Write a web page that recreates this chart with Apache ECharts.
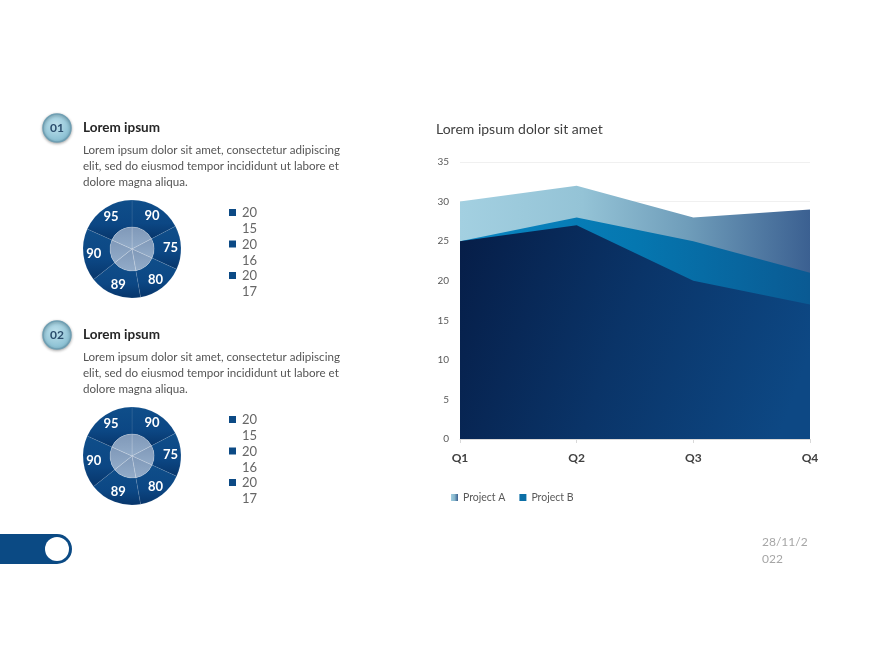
<!DOCTYPE html>
<html>
<head>
<meta charset="utf-8">
<script src="https://cdn.jsdelivr.net/npm/echarts@6/dist/echarts.min.js"></script>
<style>
html,body{margin:0;padding:0;background:#fff;}
#chart{width:870px;height:653px;}
</style>
</head>
<body>
<div id="chart"></div>
<script>
// ---- data ----
const quarters = ['Q1', 'Q2', 'Q3', 'Q4'];
const projectA = [30, 32, 28, 29];
const projectB = [25, 28, 25, 21];
const baseArea = [25, 27, 20, 17];
const yTicks = { min: 0, max: 35, interval: 5 };
const pieValues = [90, 75, 80, 89, 90, 95];
const pieYears = ['2015', '2016', '2017'];
const chartTitle = 'Lorem ipsum dolor sit amet';
const sectionNumbers = ['01', '02'];
const sectionHeading = 'Lorem ipsum';
const sectionBody = [
  'Lorem ipsum dolor sit amet, consectetur adipiscing',
  'elit, sed do eiusmod tempor incididunt ut labore et',
  'dolore magna aliqua.'
];
const dateText = '28/11/2\n022';

const FONT = 'Lato, "Open Sans", sans-serif';
const chart = echarts.init(document.getElementById('chart'));

function lin(x, y, x2, y2, stops) {
  return { type: 'linear', x: x, y: y, x2: x2, y2: y2,
    colorStops: stops.map(s => ({ offset: s[0], color: s[1] })) };
}

const sectionTops = [128, 335];
const pieCenters = [[132, 249], [132, 456]];

const graphics = [];
sectionTops.forEach((cy, i) => {
  graphics.push({
    type: 'circle', shape: { cx: 57, cy: cy, r: 14 },
    style: {
      fill: { type: 'radial', x: 0.45, y: 0.4, r: 0.6,
        colorStops: [{ offset: 0, color: '#bfe1ec' }, { offset: 1, color: '#84bcd0' }] },
      stroke: '#6f9fb3', lineWidth: 1.5,
      shadowBlur: 3, shadowColor: 'rgba(0,0,0,0.3)', shadowOffsetY: 1
    }, z: 10
  });
  graphics.push({
    type: 'text', x: 57, y: cy, z: 11,
    style: { text: sectionNumbers[i], fill: '#2b4d6c', font: 'bold 12px ' + FONT,
      textAlign: 'center', textVerticalAlign: 'middle' }
  });
  graphics.push({
    type: 'text', x: 83, y: cy, z: 11,
    style: { text: sectionHeading, fill: '#262626', font: 'bold 13.5px ' + FONT,
      textAlign: 'left', textVerticalAlign: 'middle' }
  });
  sectionBody.forEach((line, j) => {
    graphics.push({
      type: 'text', x: 83, y: cy + 22 + j * 16, z: 11,
      style: { text: line, fill: '#555555', font: '11.6px ' + FONT,
        textAlign: 'left', textVerticalAlign: 'middle' }
    });
  });
  // pie legend
  const ly = cy + 85;
  pieYears.forEach((yr, k) => {
    graphics.push({
      type: 'rect', shape: { x: 229, y: ly + k * 31.5 - 4, width: 7, height: 7 },
      style: { fill: '#0c4a85' }, z: 11
    });
    graphics.push({
      type: 'text', x: 242, y: ly + k * 31.5 - 8, z: 11,
      style: { text: yr.slice(0, 2) + '\n' + yr.slice(2), fill: '#666666',
        font: '13px ' + FONT, lineHeight: 16, textAlign: 'left', textVerticalAlign: 'top' }
    });
  });
});

// bottom-left pill
graphics.push({ type: 'rect', shape: { x: 0, y: 534, width: 57, height: 30 }, style: { fill: '#0b4a84' }, z: 5 });
graphics.push({ type: 'circle', shape: { cx: 57, cy: 549, r: 15 }, style: { fill: '#0b4a84' }, z: 5 });
graphics.push({ type: 'circle', shape: { cx: 57, cy: 549, r: 12 }, style: { fill: '#ffffff' }, z: 6 });
// chart title
graphics.push({ type: 'text', x: 436, y: 129, z: 11,
  style: { text: chartTitle, fill: '#404040', font: '14px ' + FONT, textAlign: 'left', textVerticalAlign: 'middle' } });
// date
graphics.push({ type: 'text', x: 762, y: 534, z: 11,
  style: { text: dateText, fill: '#a6a6a6', font: '12px ' + FONT, lineHeight: 17, textAlign: 'left', textVerticalAlign: 'top' } });

const pieSeries = [];
pieCenters.forEach((c) => {
  pieSeries.push({
    type: 'pie', center: c, radius: [22, 49], startAngle: 90, clockwise: true,
    silent: true, animation: false,
    data: pieValues.map(v => ({ value: v, name: String(v) })),
    label: { show: true, position: 'inside', formatter: '{c}', color: '#ffffff',
      fontSize: 13, fontWeight: 'bold', fontFamily: FONT },
    labelLine: { show: false },
    itemStyle: {
      color: lin(0, 0, 0, 1, [[0, '#0f4e8a'], [0.6, '#0c4784'], [1, '#07356a']]),
      borderColor: 'rgba(255,255,255,0.12)', borderWidth: 0.7
    },
    z: 2
  });
  pieSeries.push({
    type: 'pie', center: c, radius: [0, 22], startAngle: 90, clockwise: true,
    silent: true, animation: false,
    data: pieValues.map(v => ({ value: v, name: String(v) })),
    label: { show: false }, labelLine: { show: false },
    itemStyle: {
      color: lin(0, 0, 0, 1, [[0, '#7f98b8'], [1, '#93acc9']]),
      borderColor: 'rgba(255,255,255,0.25)', borderWidth: 0.7
    },
    z: 3
  });
});

const option = {
  animation: false,
  backgroundColor: '#ffffff',
  textStyle: { fontFamily: FONT },
  grid: { left: 460, top: 162, width: 350, height: 277, containLabel: false },
  legend: {
    left: 446, top: 487, itemWidth: 7, itemHeight: 7, itemGap: 14, icon: 'rect',
    data: ['Project A', 'Project B'],
    textStyle: { fontSize: 10.5, color: '#595959', fontFamily: FONT },
    selectedMode: false
  },
  xAxis: {
    type: 'category', data: quarters, boundaryGap: false,
    axisLine: { show: true, lineStyle: { color: '#d9d9d9' } },
    axisTick: { show: true, length: 4, lineStyle: { color: '#d9d9d9' } },
    axisLabel: { color: '#404040', fontSize: 12, fontWeight: 'bold', margin: 13, fontFamily: FONT }
  },
  yAxis: {
    type: 'value', min: yTicks.min, max: yTicks.max, interval: yTicks.interval,
    axisLine: { show: false }, axisTick: { show: false },
    splitLine: { lineStyle: { color: '#f0f0f0' } },
    axisLabel: { color: '#595959', fontSize: 10, margin: 11, fontFamily: FONT }
  },
  series: [
    {
      name: 'Project A', type: 'line', data: projectA, symbol: 'none', silent: true,
      lineStyle: { width: 0 },
      color: lin(0, 0, 1, 0, [[0, '#9fcde0'], [0.5, '#86b6cb'], [1, '#3a5f90']]),
      areaStyle: { opacity: 1, color: lin(0, 0, 1, 0, [[0, '#a3d0e1'], [0.35, '#94c3d6'], [0.65, '#6f9dba'], [1, '#3b6091']]) },
      z: 1
    },
    {
      name: 'Project B', type: 'line', data: projectB, symbol: 'none', silent: true,
      lineStyle: { width: 0 },
      color: '#0b6fa6',
      areaStyle: { opacity: 1, color: lin(0, 0, 1, 0, [[0, '#0a86c2'], [0.5, '#0577b0'], [1, '#0a5a93']]) },
      z: 2
    },
    {
      name: 'Base', type: 'line', data: baseArea, symbol: 'none', silent: true,
      lineStyle: { width: 0 },
      color: '#0b2c5c',
      areaStyle: { opacity: 1, color: lin(0, 0, 1, 0.6, [[0, '#061d47'], [0.5, '#0a3468'], [1, '#0d4884']]) },
      z: 3
    }
  ].concat(pieSeries),
  graphic: { elements: graphics }
};
chart.setOption(option);
</script>
</body>
</html>
